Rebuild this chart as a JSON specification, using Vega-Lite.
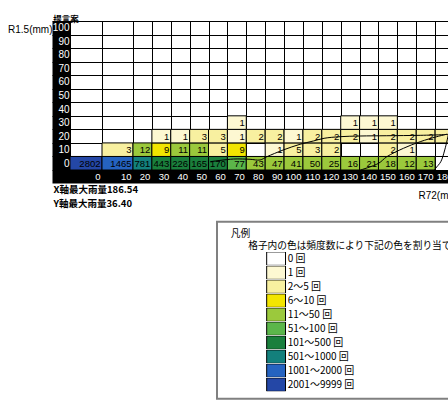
{
  "$schema": "https://vega.github.io/schema/vega-lite/v6.json",
  "width": 378,
  "height": 149,
  "autosize": "none",
  "padding": {"left": 70, "top": 21, "right": 0, "bottom": 233},
  "background": "white",
  "config": {"view": {"stroke": null}, "legend": {"strokeWidth": 2}},
  "title": {"text": "提言案", "anchor": "start", "frame": "group", "dx": -16.7, "offset": -23, "baseline": "bottom", "font": "Noto Sans CJK JP", "fontSize": 8.5, "fontWeight": "bold", "color": "black"},
  "datasets": {
    "cells": [
      {"r72": 0, "r72e": 10, "r15": 0, "r15e": 10, "n": 2802, "c": "2001～9999 回"},
      {"r72": 10, "r72e": 20, "r15": 0, "r15e": 10, "n": 1465, "c": "1001～2000 回"},
      {"r72": 20, "r72e": 30, "r15": 0, "r15e": 10, "n": 781, "c": "501～1000 回"},
      {"r72": 30, "r72e": 40, "r15": 0, "r15e": 10, "n": 443, "c": "101～500 回"},
      {"r72": 40, "r72e": 50, "r15": 0, "r15e": 10, "n": 226, "c": "101～500 回"},
      {"r72": 50, "r72e": 60, "r15": 0, "r15e": 10, "n": 165, "c": "101～500 回"},
      {"r72": 60, "r72e": 70, "r15": 0, "r15e": 10, "n": 170, "c": "101～500 回"},
      {"r72": 70, "r72e": 80, "r15": 0, "r15e": 10, "n": 77, "c": "51～100 回"},
      {"r72": 80, "r72e": 90, "r15": 0, "r15e": 10, "n": 43, "c": "11～50 回"},
      {"r72": 90, "r72e": 100, "r15": 0, "r15e": 10, "n": 47, "c": "11～50 回"},
      {"r72": 100, "r72e": 110, "r15": 0, "r15e": 10, "n": 41, "c": "11～50 回"},
      {"r72": 110, "r72e": 120, "r15": 0, "r15e": 10, "n": 50, "c": "11～50 回"},
      {"r72": 120, "r72e": 130, "r15": 0, "r15e": 10, "n": 25, "c": "11～50 回"},
      {"r72": 130, "r72e": 140, "r15": 0, "r15e": 10, "n": 16, "c": "11～50 回"},
      {"r72": 140, "r72e": 150, "r15": 0, "r15e": 10, "n": 21, "c": "11～50 回"},
      {"r72": 150, "r72e": 160, "r15": 0, "r15e": 10, "n": 18, "c": "11～50 回"},
      {"r72": 160, "r72e": 170, "r15": 0, "r15e": 10, "n": 12, "c": "11～50 回"},
      {"r72": 170, "r72e": 180, "r15": 0, "r15e": 10, "n": 13, "c": "11～50 回"},
      {"r72": 10, "r72e": 20, "r15": 10, "r15e": 20, "n": 3, "c": "2～5 回"},
      {"r72": 20, "r72e": 30, "r15": 10, "r15e": 20, "n": 12, "c": "11～50 回"},
      {"r72": 30, "r72e": 40, "r15": 10, "r15e": 20, "n": 9, "c": "6～10 回"},
      {"r72": 40, "r72e": 50, "r15": 10, "r15e": 20, "n": 11, "c": "11～50 回"},
      {"r72": 50, "r72e": 60, "r15": 10, "r15e": 20, "n": 11, "c": "11～50 回"},
      {"r72": 60, "r72e": 70, "r15": 10, "r15e": 20, "n": 5, "c": "2～5 回"},
      {"r72": 70, "r72e": 80, "r15": 10, "r15e": 20, "n": 9, "c": "6～10 回"},
      {"r72": 90, "r72e": 100, "r15": 10, "r15e": 20, "n": 1, "c": "1 回"},
      {"r72": 100, "r72e": 110, "r15": 10, "r15e": 20, "n": 5, "c": "2～5 回"},
      {"r72": 110, "r72e": 120, "r15": 10, "r15e": 20, "n": 3, "c": "2～5 回"},
      {"r72": 120, "r72e": 130, "r15": 10, "r15e": 20, "n": 2, "c": "2～5 回"},
      {"r72": 150, "r72e": 160, "r15": 10, "r15e": 20, "n": 2, "c": "2～5 回"},
      {"r72": 160, "r72e": 170, "r15": 10, "r15e": 20, "n": 1, "c": "1 回"},
      {"r72": 30, "r72e": 40, "r15": 20, "r15e": 30, "n": 1, "c": "1 回"},
      {"r72": 40, "r72e": 50, "r15": 20, "r15e": 30, "n": 1, "c": "1 回"},
      {"r72": 50, "r72e": 60, "r15": 20, "r15e": 30, "n": 3, "c": "2～5 回"},
      {"r72": 60, "r72e": 70, "r15": 20, "r15e": 30, "n": 3, "c": "2～5 回"},
      {"r72": 70, "r72e": 80, "r15": 20, "r15e": 30, "n": 1, "c": "1 回"},
      {"r72": 80, "r72e": 90, "r15": 20, "r15e": 30, "n": 2, "c": "2～5 回"},
      {"r72": 90, "r72e": 100, "r15": 20, "r15e": 30, "n": 2, "c": "2～5 回"},
      {"r72": 100, "r72e": 110, "r15": 20, "r15e": 30, "n": 1, "c": "1 回"},
      {"r72": 110, "r72e": 120, "r15": 20, "r15e": 30, "n": 2, "c": "2～5 回"},
      {"r72": 120, "r72e": 130, "r15": 20, "r15e": 30, "n": 2, "c": "2～5 回"},
      {"r72": 130, "r72e": 140, "r15": 20, "r15e": 30, "n": 2, "c": "2～5 回"},
      {"r72": 140, "r72e": 150, "r15": 20, "r15e": 30, "n": 1, "c": "1 回"},
      {"r72": 150, "r72e": 160, "r15": 20, "r15e": 30, "n": 2, "c": "2～5 回"},
      {"r72": 160, "r72e": 170, "r15": 20, "r15e": 30, "n": 2, "c": "2～5 回"},
      {"r72": 170, "r72e": 180, "r15": 20, "r15e": 30, "n": 2, "c": "2～5 回"},
      {"r72": 180, "r72e": 190, "r15": 20, "r15e": 30, "n": 2, "c": "2～5 回"},
      {"r72": 70, "r72e": 80, "r15": 30, "r15e": 40, "n": 1, "c": "1 回"},
      {"r72": 130, "r72e": 140, "r15": 30, "r15e": 40, "n": 1, "c": "1 回"},
      {"r72": 140, "r72e": 150, "r15": 30, "r15e": 40, "n": 1, "c": "1 回"},
      {"r72": 150, "r72e": 160, "r15": 30, "r15e": 40, "n": 1, "c": "1 回"}
    ],
    "curves": [
      {"seg": "A", "i": 1, "r72": 60.8, "r15": 6.1},
      {"seg": "A", "i": 2, "r72": 73.2, "r15": 8.1},
      {"seg": "A", "i": 3, "r72": 82.0, "r15": 7.9},
      {"seg": "A", "i": 4, "r72": 87.3, "r15": 7.4},
      {"seg": "A", "i": 5, "r72": 90.9, "r15": 9.8},
      {"seg": "A", "i": 6, "r72": 99.6, "r15": 14.8},
      {"seg": "A", "i": 7, "r72": 108.5, "r15": 19.0},
      {"seg": "A", "i": 8, "r72": 115.5, "r15": 21.4},
      {"seg": "A", "i": 9, "r72": 121.2, "r15": 23.4},
      {"seg": "A", "i": 10, "r72": 129.7, "r15": 24.6},
      {"seg": "A", "i": 11, "r72": 140.3, "r15": 25.1},
      {"seg": "A", "i": 12, "r72": 154.4, "r15": 25.3},
      {"seg": "A", "i": 13, "r72": 172.1, "r15": 25.6},
      {"seg": "A", "i": 14, "r72": 184.4, "r15": 26.1},
      {"seg": "A", "i": 15, "r72": 188.0, "r15": 26.5},
      {"seg": "B", "i": 1, "r72": 140.5, "r15": 0.0},
      {"seg": "B", "i": 2, "r72": 150.0, "r15": 4.9},
      {"seg": "B", "i": 3, "r72": 154.4, "r15": 9.8},
      {"seg": "B", "i": 4, "r72": 163.2, "r15": 16.0},
      {"seg": "B", "i": 5, "r72": 172.1, "r15": 20.9},
      {"seg": "B", "i": 6, "r72": 180.9, "r15": 24.6},
      {"seg": "B", "i": 7, "r72": 186.2, "r15": 26.4},
      {"seg": "C", "i": 1, "r72": 187.2, "r15": 27.3},
      {"seg": "C", "i": 2, "r72": 185.1, "r15": 14.8},
      {"seg": "C", "i": 3, "r72": 183.0, "r15": 6.1},
      {"seg": "C", "i": 4, "r72": 180.3, "r15": 1.3},
      {"seg": "C", "i": 5, "r72": 179.8, "r15": 0.0}
    ]
  },
  "layer": [
    {
      "data": {"name": "cells"},
      "mark": {"type": "rect", "stroke": "black", "strokeWidth": 1},
      "encoding": {
        "x": {
          "field": "r72", "type": "quantitative",
          "scale": {"domain": [-6, 0, 10, 20, 190], "range": [-18, 0, 32, 63, 384], "nice": false, "zero": false},
          "axis": {
            "orient": "bottom",
            "values": [0, 10, 20, 30, 40, 50, 60, 70, 80, 90, 100, 110, 120, 130, 140, 150, 160, 170, 180, 190],
            "grid": true, "gridColor": "black", "gridWidth": 1, "gridOpacity": 1,
            "domain": true, "domainColor": "black", "domainWidth": 13, "offset": 6.5,
            "ticks": false, "labels": false,
            "title": ["X軸最大雨量186.54", "Y軸最大雨量36.40"],
            "titleX": -17, "titleY": 8, "titleAlign": "left", "titleBaseline": "top",
            "titleFont": "Noto Sans CJK JP", "titleFontSize": 9.5, "titleFontWeight": "bold", "titleLineHeight": 13.5, "titleColor": "black"
          }
        },
        "x2": {"field": "r72e"},
        "y": {
          "field": "r15", "type": "quantitative",
          "scale": {"domain": [0, 110], "nice": false, "zero": false},
          "axis": {
            "orient": "left",
            "values": [0, 10, 20, 30, 40, 50, 60, 70, 80, 90, 100, 110],
            "grid": true, "gridColor": "black", "gridWidth": 1, "gridOpacity": 1,
            "domain": true, "domainColor": "black", "domainWidth": 18, "offset": 9,
            "ticks": false, "labels": false, "title": null
          }
        },
        "y2": {"field": "r15e"},
        "color": {
          "field": "c", "type": "nominal",
          "scale": {"domain": ["0 回", "1 回", "2～5 回", "6～10 回", "11～50 回", "51～100 回", "101～500 回", "501～1000 回", "1001～2000 回", "2001～9999 回"],
                    "range": ["#ffffff", "#fdf8d2", "#f8f0a0", "#f2e500", "#9bc93c", "#5bb64a", "#1a7f3c", "#13807c", "#2563c0", "#2447a6"]},
          "legend": {
            "orient": "none", "legendX": 147, "legendY": 200.7, "direction": "vertical", "columns": 1,
            "title": ["\u200b\u2002\u2009凡例", "\u200b\u3000\u3000\u2002格子内の色は頻度数により下記の色を割り当てる"],
            "titleFont": "Noto Sans CJK JP", "titleFontSize": 9.7, "titleFontWeight": "normal", "titleColor": "black",
            "titleLineHeight": 12.5, "titlePadding": 1, "titleLimit": 1000, "titleAlign": "left",
            "padding": 7, "strokeColor": "#808080", "fillColor": "white",
            "symbolType": "M5.23,-1H8.03V1H5.23Z", "symbolSize": 181, "symbolStrokeColor": "black", "symbolStrokeWidth": 1, "symbolOpacity": 1,
            "symbolOffset": 0,
            "labelFont": "Noto Sans CJK JP", "labelFontSize": 10, "labelColor": "black", "labelOffset": 48.7, "labelLimit": 300,
            "clipHeight": 13.45, "rowPadding": 0
          }
        }
      }
    },
    {
      "data": {"name": "cells"},
      "mark": {"type": "text", "align": "right", "baseline": "alphabetic", "dx": -1.5, "dy": -3.3, "font": "Liberation Sans", "fontSize": 9.5, "color": "black"},
      "encoding": {
        "x": {"field": "r72e", "type": "quantitative", "axis": null},
        "y": {
          "field": "r15", "type": "quantitative",
          "axis": {
            "orient": "left", "zindex": 1,
            "values": [0, 10, 20, 30, 40, 50, 60, 70, 80, 90, 100, 110],
            "grid": false, "domain": false, "ticks": false,
            "labelColor": "white", "labelFont": "Liberation Sans", "labelFontSize": 10,
            "labelExpr": "datum.value > 100 ? '' : '' + datum.value",
            "labelAlign": "right", "labelBaseline": "middle", "labelOffset": -6.77, "labelPadding": 1,
            "labelFlush": false, "labelOverlap": false,
            "title": "R1.5(mm)", "titleAngle": 0, "titleX": -18, "titleY": 8, "titleAlign": "right", "titleBaseline": "middle",
            "titleFont": "Liberation Sans", "titleFontSize": 10, "titleFontWeight": "normal", "titleColor": "black"
          }
        },
        "text": {"field": "n", "type": "quantitative"}
      }
    },
    {
      "data": {"name": "curves"},
      "mark": {"type": "line", "color": "black", "strokeWidth": 1, "interpolate": "catmull-rom"},
      "encoding": {
        "x": {"field": "r72", "type": "quantitative",
              "axis": {
                "orient": "bottom", "zindex": 1,
                "values": [0, 10, 20, 30, 40, 50, 60, 70, 80, 90, 100, 110, 120, 130, 140, 150, 160, 170, 180, 190],
                "grid": false, "domain": false, "ticks": false,
                "labelColor": "white", "labelFont": "Liberation Sans", "labelFontSize": 9.5,
                "labelExpr": "datum.value == 0 ? '' : '' + (datum.value - 10)",
                "labelAlign": "right", "labelBaseline": "middle", "labelOffset": -2, "labelPadding": 6.5,
                "labelFlush": false, "labelOverlap": false, "labelBound": false,
                "title": "R72(mm)",
                "titleX": 348, "titleY": 25, "titleAlign": "left", "titleBaseline": "middle",
                "titleFont": "Liberation Sans", "titleFontSize": 10, "titleFontWeight": "normal", "titleColor": "black"}},
        "y": {"field": "r15", "type": "quantitative", "axis": null},
        "detail": {"field": "seg"},
        "order": {"field": "i"}
      }
    }
  ],
  "resolve": {"axis": {"x": "independent", "y": "independent"}}
}
